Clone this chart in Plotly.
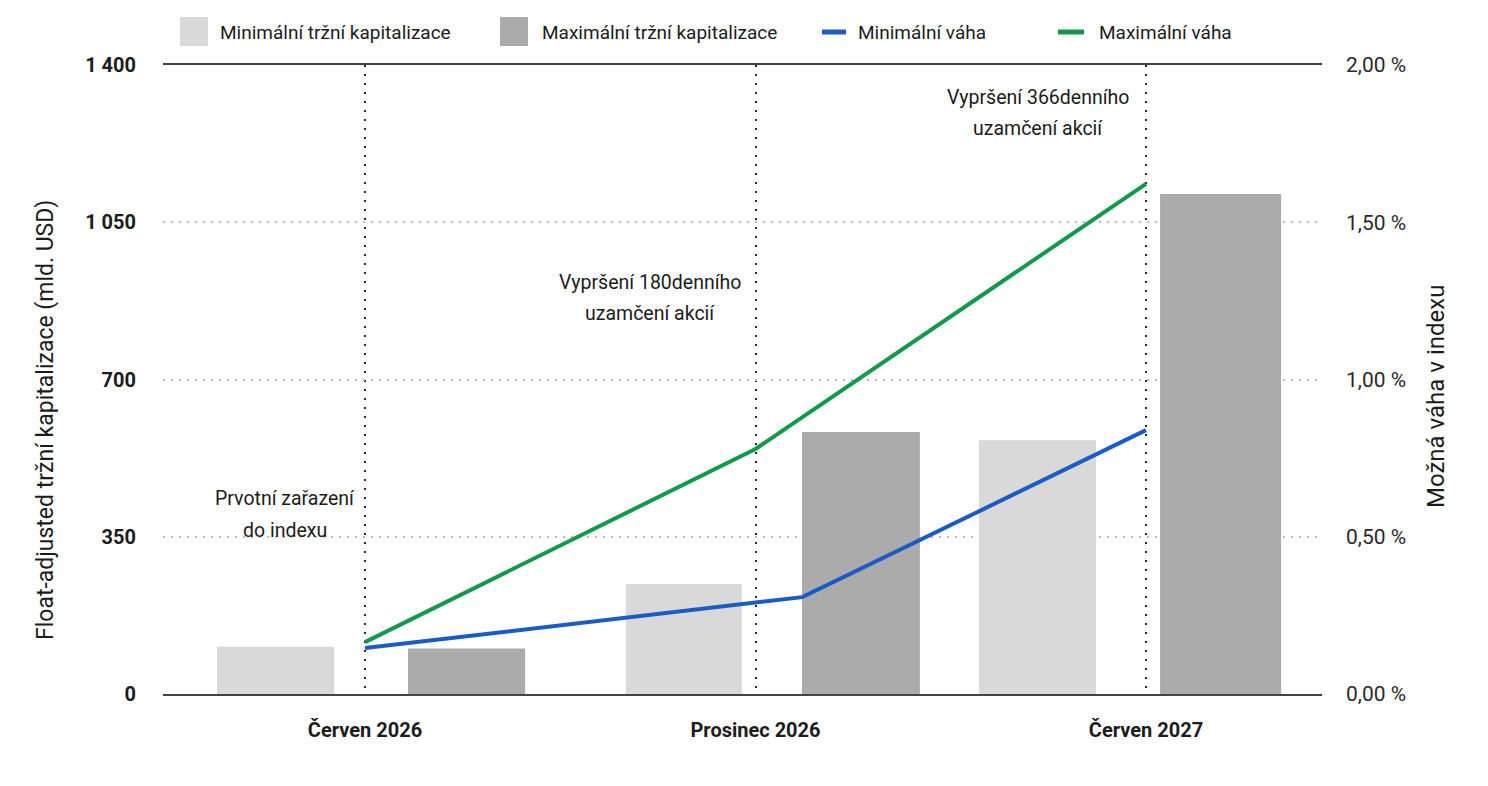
import plotly.graph_objects as go

# ---------------- data ----------------
categories = ["Červen 2026", "Prosinec 2026", "Červen 2027"]
cat_pos = [0, 1, 2]
min_cap = [105, 245, 565]          # mld. USD
max_cap = [101, 583, 1113]         # mld. USD
max_weight_x = [0, 1, 2]
max_weight = [0.165, 0.779, 1.622]  # %
min_weight_x = [0, 1.12, 2]
min_weight = [0.146, 0.308, 0.839]  # %
left_ticks = [0, 350, 700, 1050, 1400]
left_ticktext = ["0", "350", "700", "1 050", "1 400"]
right_ticks = [0, 0.5, 1.0, 1.5, 2.0]
right_ticktext = ["0,00 %", "0,50 %", "1,00 %", "1,50 %", "2,00 %"]

# ---------------- styling ----------------
W, H = 1488, 786
L, R, T, B = 163, 1322, 65, 694
NARROW = "Roboto, sans-serif"
TXT = "#1c1c1c"
LIGHT = "#d9d9d9"
DARK = "#ababab"
BLUE = "#1a5cc4"
GREEN = "#12994a"


def px(x):
    return (x - L) / (R - L)


def py(y):
    return (B - y) / (B - T)


fig = go.Figure()

fig.add_trace(go.Bar(
    x=cat_pos, y=min_cap, name="Minimální tržní kapitalizace",
    marker=dict(color=LIGHT, line=dict(width=0)),
    offset=[-0.379, -0.332, -0.428], width=[0.300, 0.297, 0.300],
    showlegend=False,
))
fig.add_trace(go.Bar(
    x=cat_pos, y=max_cap, name="Maximální tržní kapitalizace",
    marker=dict(color=DARK, line=dict(width=0)),
    offset=[0.110, 0.119, 0.036], width=[0.300, 0.302, 0.310],
    showlegend=False,
))
fig.add_trace(go.Scatter(
    x=min_weight_x, y=min_weight, name="Minimální váha", yaxis="y2",
    mode="lines", line=dict(color=BLUE, width=4), showlegend=False,
))
fig.add_trace(go.Scatter(
    x=max_weight_x, y=max_weight, name="Maximální váha", yaxis="y2",
    mode="lines", line=dict(color=GREEN, width=4), showlegend=False,
))

fig.update_layout(
    width=W, height=H,
    margin=dict(l=L, r=W - R, t=T, b=H - B, pad=0),
    paper_bgcolor="white", plot_bgcolor="white",
    barmode="overlay",
    font=dict(family=NARROW, color=TXT),
    xaxis=dict(
        range=[(L - 365) / 390.5, (R - 365) / 390.5],
        tickvals=cat_pos, ticktext=categories,
        tickfont=dict(family=NARROW, size=20, weight="bold", color=TXT),
        ticks="", ticklabelstandoff=17,
        showgrid=True, gridcolor="#2a2a2a", gridwidth=2, griddash="2px,7px",
        showline=True, mirror=True, linecolor="#444444", linewidth=2,
        zeroline=False, fixedrange=True,
    ),
    yaxis=dict(
        range=[0, 1400], tickvals=left_ticks, ticktext=left_ticktext,
        tickfont=dict(family="Roboto, sans-serif", size=20, weight="bold", color=TXT),
        ticks="", ticklabelstandoff=26,
        showgrid=True, gridcolor="#bdbdbd", gridwidth=1.5, griddash="2px,6px",
        showline=False, zeroline=False,
    ),
    yaxis2=dict(
        range=[0, 2], tickvals=right_ticks, ticktext=right_ticktext,
        overlaying="y", side="right",
        tickfont=dict(family="Roboto, sans-serif", size=21, color="#2a2a2a"),
        ticks="", ticklabelstandoff=23,
        showgrid=False, showline=False, zeroline=False,
    ),
)

annotations = [
    dict(text="Float-adjusted tržní kapitalizace (mld. USD)", x=px(45), y=py(420),
         textangle=-90, font=dict(size=23, family=NARROW, color=TXT)),
    dict(text="Možná váha v indexu", x=px(1436), y=py(397),
         textangle=-90, font=dict(size=24, family=NARROW, color=TXT)),
]

# note texts (each line placed separately to match the line spacing)
notes = [
    ("Prvotní zařazení", 285, 498),
    ("do indexu", 285, 530),
    ("Vypršení 180denního", 650, 282),
    ("uzamčení akcií", 650, 313),
    ("Vypršení 366denního", 1038, 97),
    ("uzamčení akcií", 1038, 128),
]
for text, nx, ny in notes:
    annotations.append(dict(text=text, x=px(nx), y=py(ny),
                            font=dict(size=19.5, family=NARROW, color=TXT)))

for a in annotations:
    a.update(xref="paper", yref="paper", showarrow=False,
             xanchor="center", yanchor="middle")

# custom legend
legend_items = [
    ("rect", LIGHT, 180, 208, 218, "Minimální tržní kapitalizace"),
    ("rect", DARK, 500, 528, 540, "Maximální tržní kapitalizace"),
    ("line", BLUE, 822, 846, 856, "Minimální váha"),
    ("line", GREEN, 1058, 1084, 1097, "Maximální váha"),
]
shapes = []
for kind, col, x0, x1, tx, label in legend_items:
    if kind == "rect":
        shapes.append(dict(type="rect", xref="paper", yref="paper",
                           x0=px(x0), x1=px(x1), y0=py(46), y1=py(17),
                           fillcolor=col, line=dict(width=0)))
    else:
        shapes.append(dict(type="line", xref="paper", yref="paper",
                           x0=px(x0), x1=px(x1), y0=py(32), y1=py(32),
                           line=dict(color=col, width=5)))
    annotations.append(dict(text=label, x=px(tx), y=py(32), xref="paper", yref="paper",
                            xanchor="left", yanchor="middle", showarrow=False,
                            font=dict(size=19, family=NARROW, color=TXT)))

fig.update_layout(annotations=annotations, shapes=shapes)

fig.write_html("out.html")
